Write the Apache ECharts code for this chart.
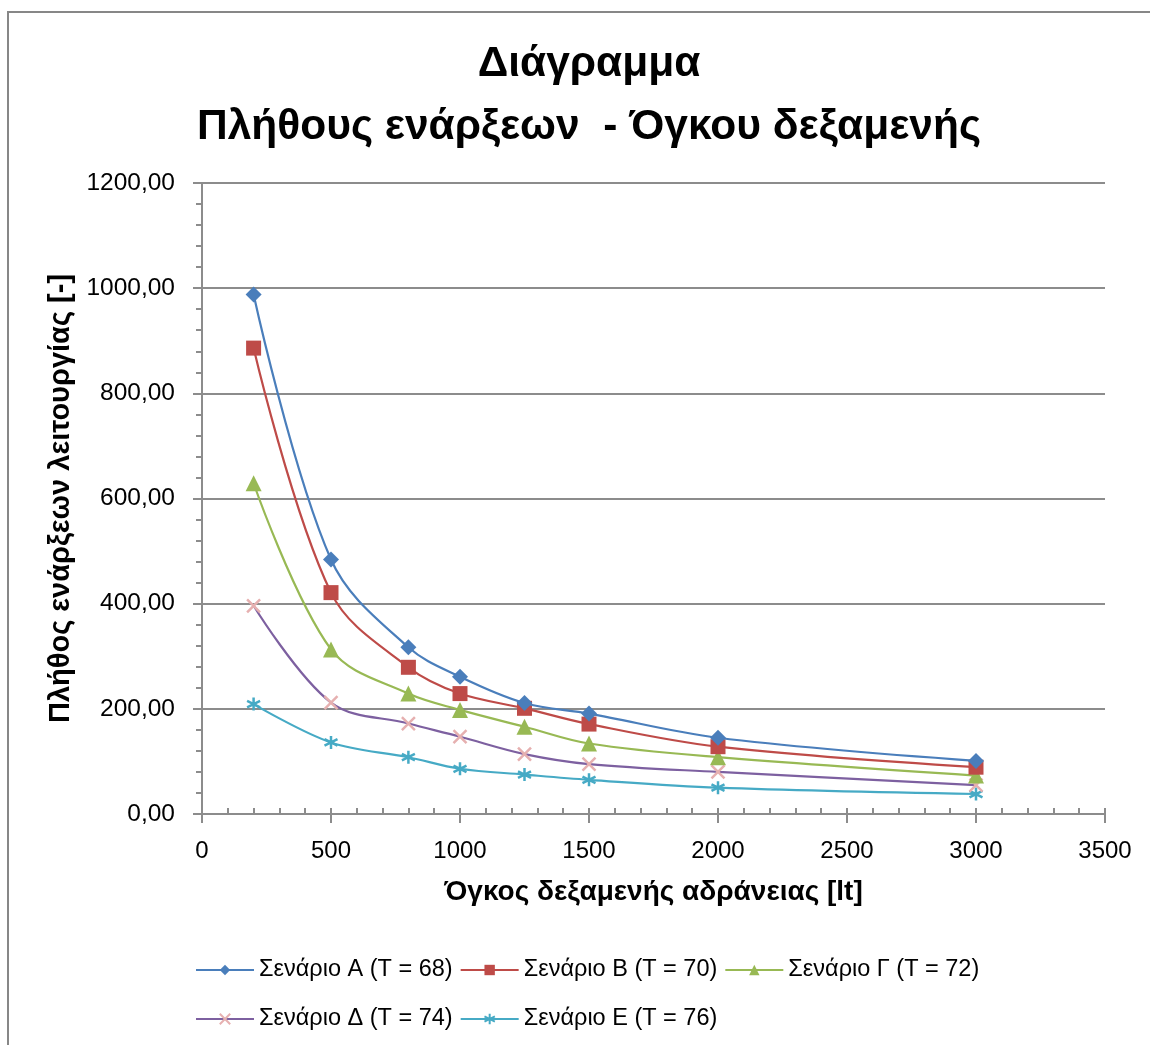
<!DOCTYPE html>
<html><head><meta charset="utf-8">
<script src="https://cdn.jsdelivr.net/npm/echarts@6/dist/echarts.min.js"></script>
<style>html,body{margin:0;padding:0;background:#fff}#c{width:1150px;height:1045px}</style>
</head><body><div id="c"></div>
<script>
const volumes = [200, 500, 800, 1000, 1250, 1500, 2000, 3000];
const seriesNames = ['Σενάριο A (T = 68)', 'Σενάριο B (T = 70)', 'Σενάριο Γ (T = 72)', 'Σενάριο Δ (T = 74)', 'Σενάριο E (T = 76)'];
const scenA = [988, 484, 317, 261, 211, 191, 145, 101];
const scenB = [886, 421, 279, 229, 201, 171, 128, 89];
const scenC = [629, 313, 229, 198, 166, 134, 108, 73];
const scenD = [396, 212, 172, 147, 114, 95, 80, 55];
const scenE = [209, 136, 108, 86, 75, 65, 50, 38];
const titleText = 'Διάγραμμα\nΠλήθους ενάρξεων  - Όγκου δεξαμενής';
const xName = 'Όγκος δεξαμενής αδράνειας [lt]';
const yName = 'Πλήθος ενάρξεων λειτουργίας [-]';

const FONT = 'Liberation Sans';
const AX = '#8c8c8c';
const pairs = arr => volumes.map((v, i) => [v, arr[i]]);

const xPath = 'path://M0,0L10,10M10,0L0,10';
const starPath = 'path://M5,0L5,10M0,2.5L10,7.5M10,2.5L0,7.5';

const lineColors = ['#4A7EBB', '#BE4B48', '#98B954', '#7D60A0', '#46AAC5'];
const markColors = ['#4A7EBB', '#BE4B48', '#98B954', '#E6B0B0', '#46AAC5'];
const symbols = ['diamond', 'rect', 'triangle', xPath, starPath];
const symSizes = [16, 15, 16, 13, 13];
const datas = [scenA, scenB, scenC, scenD, scenE];

const series = datas.map((d, i) => {
  const stroke = i >= 3;
  return {
    name: seriesNames[i], type: 'line', smooth: 0.35, data: pairs(d),
    symbol: symbols[i], symbolSize: symSizes[i], showSymbol: true,
    lineStyle: { color: lineColors[i], width: 2.2 },
    itemStyle: stroke ? { color: 'rgba(0,0,0,0)', borderColor: markColors[i], borderWidth: 2.5 }
                      : { color: markColors[i], borderWidth: 0 },
    emphasis: { disabled: true }, z: 10 - i
  };
});

const fmt = v => v.toFixed(2).replace('.', ',');
const xBase = { type: 'value', min: 0, max: 3500, interval: 500, position: 'bottom' };
const yBase = { type: 'value', min: 0, max: 1200, interval: 200, position: 'left' };

const chart = echarts.init(document.getElementById('c'));
chart.setOption({
  animation: false,
  textStyle: { fontFamily: FONT },
  title: {
    text: titleText, left: 584, top: 28, textAlign: 'center',
    textStyle: { fontFamily: FONT, fontWeight: 'bold', fontSize: 42.5, lineHeight: 63, color: '#000' }
  },
  graphic: [{ type: 'rect', shape: { x: 8, y: 12, width: 1160, height: 1060 }, style: { fill: 'none', stroke: '#878787', lineWidth: 2 }, silent: true }],
  grid: { left: 202, right: 45, top: 183, bottom: 231 },
  legend: [
    { data: seriesNames.slice(0, 3), left: 190, top: 953, itemWidth: 58, itemHeight: 13, itemGap: 7,
      textStyle: { fontFamily: FONT, fontSize: 23.5, color: '#000' } },
    { data: seriesNames.slice(3), left: 190, top: 1002, itemWidth: 58, itemHeight: 13, itemGap: 7,
      textStyle: { fontFamily: FONT, fontSize: 23.5, color: '#000' } }
  ],
  xAxis: [
    Object.assign({}, xBase, {
      name: xName, nameLocation: 'middle', nameGap: 64,
      nameTextStyle: { fontFamily: FONT, fontWeight: 'bold', fontSize: 28, color: '#000' },
      axisLine: { lineStyle: { color: AX, width: 2 } },
      axisTick: { show: true, inside: true, length: 6, lineStyle: { color: AX, width: 2 } },
      minorTick: { show: true, splitNumber: 5, length: 6, lineStyle: { color: AX, width: 2 } },
      axisLabel: { fontFamily: FONT, fontSize: 24, color: '#000', margin: 25, formatter: v => String(v) },
      splitLine: { show: false }
    }),
    Object.assign({}, xBase, {
      axisLine: { show: false }, axisLabel: { show: false }, splitLine: { show: false },
      axisTick: { show: true, inside: false, length: 9, lineStyle: { color: AX, width: 2 } }
    })
  ],
  yAxis: [
    Object.assign({}, yBase, {
      name: yName, nameLocation: 'middle', nameGap: 127, nameRotate: 90,
      nameTextStyle: { fontFamily: FONT, fontWeight: 'bold', fontSize: 29, color: '#000' },
      axisLine: { show: true, lineStyle: { color: AX, width: 2 } },
      axisTick: { show: false },
      minorTick: { show: true, splitNumber: 5, length: 6, lineStyle: { color: AX, width: 2 } },
      axisLabel: { fontFamily: FONT, fontSize: 24.5, color: '#000', margin: 27, formatter: fmt },
      splitLine: { show: true, lineStyle: { color: AX, width: 2 } }
    }),
    Object.assign({}, yBase, {
      axisLine: { show: false }, axisLabel: { show: false }, splitLine: { show: false },
      axisTick: { show: true, inside: false, length: 9, lineStyle: { color: AX, width: 2 } }
    })
  ],
  series: series
});
</script></body></html>
